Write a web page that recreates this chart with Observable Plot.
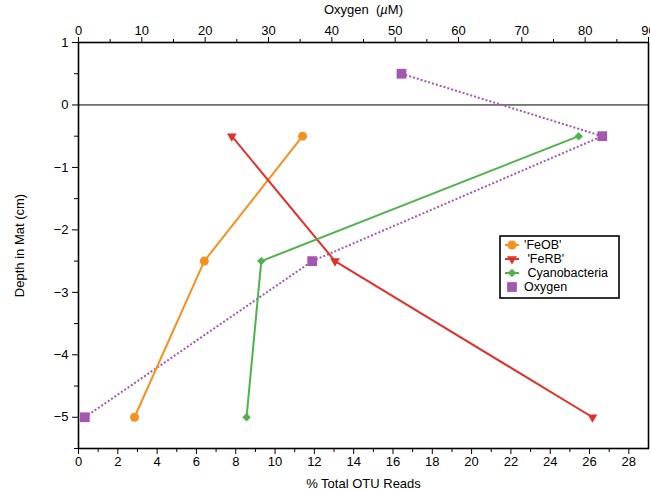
<!DOCTYPE html>
<html><head><meta charset="utf-8">
<script src="https://cdn.jsdelivr.net/npm/d3@7"></script>
<script src="https://cdn.jsdelivr.net/npm/@observablehq/plot@0.6"></script>
<style>
body{margin:0;background:#fff;font-family:"Liberation Sans",Arial,sans-serif}
#c{position:relative;width:650px;height:491px}
#legend{position:absolute;left:0;top:0}
</style>
</head><body><div id="c"></div>
<script>
// Data
const depths = [-0.5, -2.5, -5];
const feob = [11.4, 6.4, 2.85];
const ferb = [7.8, 13.05, 26.15];
const cyano = [25.45, 9.3, 8.55];
const oxyDepths = [0.5, -0.5, -2.5, -5];
const oxygen = [51, 82.7, 36.9, 1.0];

const otuMax = 29, oxyMax = 90;
const otuTicks = d3.range(0, 29, 2);
const otuMinor = d3.range(1, 29, 2);
const oxyTicks = d3.range(0, 91, 10);
const oxyMinor = d3.range(5, 90, 10);
const depthTicks = d3.range(-5, 2, 1);
const depthMinor = d3.range(-5.5, 1, 1);

const colors = {feob: "#f7901e", ferb: "#e0322a", cyano: "#4fb24a", oxy: "#a457b0"};
const toOtu = v => v * otuMax / oxyMax;
const minus = d => String(d).replace("-", "\u2212");

const series = [
  {key: "feob", name: "'FeOB'", vals: feob, symbol: "circle", r: 4.5, rotate: 0},
  {key: "ferb", name: " 'FeRB'", vals: ferb, symbol: "triangle", r: 3.6, rotate: 180},
  {key: "cyano", name: " Cyanobacteria", vals: cyano, symbol: "diamond2", r: 3.8, rotate: 0}
];
const rows = series.flatMap(s => s.vals.map((v, i) => ({key: s.key, x: v, y: depths[i]})));
const oxyRows = oxygen.map((v, i) => ({x: toOtu(v), y: oxyDepths[i]}));

const marks = [
  Plot.ruleY([0], {stroke: "black", strokeWidth: 1}),
  Plot.line(oxyRows, {x: "x", y: "y", stroke: colors.oxy, strokeWidth: 2, strokeDasharray: "2,2", strokeLinecap: "butt"}),
  Plot.dot(oxyRows, {x: "x", y: "y", symbol: "square", r: 5.5, fill: colors.oxy}),
];
for (const s of series) {
  const d = rows.filter(r => r.key === s.key);
  marks.push(Plot.line(d, {x: "x", y: "y", stroke: colors[s.key], strokeWidth: 2}));
  marks.push(Plot.dot(d, {x: "x", y: "y", symbol: s.symbol, r: s.r, fill: colors[s.key], rotate: s.rotate}));
}
marks.push(
  Plot.axisX(otuTicks, {anchor: "bottom", tickSize: 6, tickPadding: 2, fontSize: 13, label: "% Total OTU Reads", labelAnchor: "center", labelOffset: 39}),
  Plot.axisX(otuMinor, {anchor: "bottom", tickSize: 4, text: null, label: null}),
  Plot.axisX(oxyTicks.map(toOtu), {anchor: "top", tickSize: 6, tickPadding: 2, fontSize: 13, tickFormat: d => Math.round(d * oxyMax / otuMax), label: "Oxygen  (µM)", labelAnchor: "center", labelOffset: 38}),
  Plot.axisX(oxyMinor.map(toOtu), {anchor: "top", tickSize: 4, text: null, label: null}),
  Plot.axisY(depthTicks, {anchor: "left", tickSize: 6, tickPadding: 4, fontSize: 13, tickFormat: minus, label: "Depth in Mat (cm)", labelAnchor: "center", labelOffset: 64}),
  Plot.axisY(depthMinor, {anchor: "left", tickSize: 4, text: null, label: null}),
  Plot.frame({stroke: "black", strokeWidth: 1.6})
);

const chart = Plot.plot({
  width: 650, height: 491,
  marginLeft: 78, marginRight: 2, marginTop: 42, marginBottom: 43,
  style: {fontFamily: '"Liberation Sans", Arial, sans-serif', fontSize: "13px", color: "black", background: "white"},
  x: {domain: [0, otuMax]},
  y: {domain: [-5.5, 1]},
  marks
});
document.getElementById("c").appendChild(chart);

// remove arrows from axis labels; italic µ in the top label
d3.select(chart).selectAll("text").each(function() {
  const t = d3.select(this);
  let s = t.text();
  if (/[→↑←↓]/.test(s)) {
    s = s.replace(/\s*[→↑←↓]\s*/g, "").trim();
    t.text(s);
  }
  if (s.startsWith("Oxygen")) {
    t.text(null).attr("xml:space", "preserve");
    t.append("tspan").text("Oxygen  (");
    t.append("tspan").attr("font-style", "italic").text("µ");
    t.append("tspan").text("M)");
  }
});

// Legend
const lg = d3.select("#c").append("svg").attr("id", "legend").attr("width", 650).attr("height", 491)
  .style("font-family", '"Liberation Sans", Arial, sans-serif').style("font-size", "12.5px");
lg.append("rect").attr("x", 500).attr("y", 236).attr("width", 119).attr("height", 62)
  .attr("fill", "white").attr("stroke", "black").attr("stroke-width", 1.6);
const legendItems = [...series.map(s => ({name: s.name, color: colors[s.key], symbol: s.symbol, r: s.r, rotate: s.rotate, line: true})),
  {name: "Oxygen", color: colors.oxy, symbol: "square", r: 5.5, rotate: 0, line: false}];
const symMap = {circle: d3.symbol, triangle: d3.symbolTriangle, diamond2: d3.symbolDiamond2, square: d3.symbolSquare};
symMap.circle = d3.symbolCircle;
legendItems.forEach((it, i) => {
  const cy = 245 + i * 14;
  if (it.line) lg.append("line").attr("x1", 505).attr("x2", 519).attr("y1", cy).attr("y2", cy).attr("stroke", it.color).attr("stroke-width", 2);
  lg.append("path").attr("d", d3.symbol(symMap[it.symbol], Math.PI * it.r * it.r)())
    .attr("transform", `translate(512,${cy}) rotate(${it.rotate})`).attr("fill", it.color);
  lg.append("text").attr("x", 524).attr("y", cy).attr("dy", "0.35em").attr("xml:space", "preserve").text(it.name);
});
</script>
</body></html>
